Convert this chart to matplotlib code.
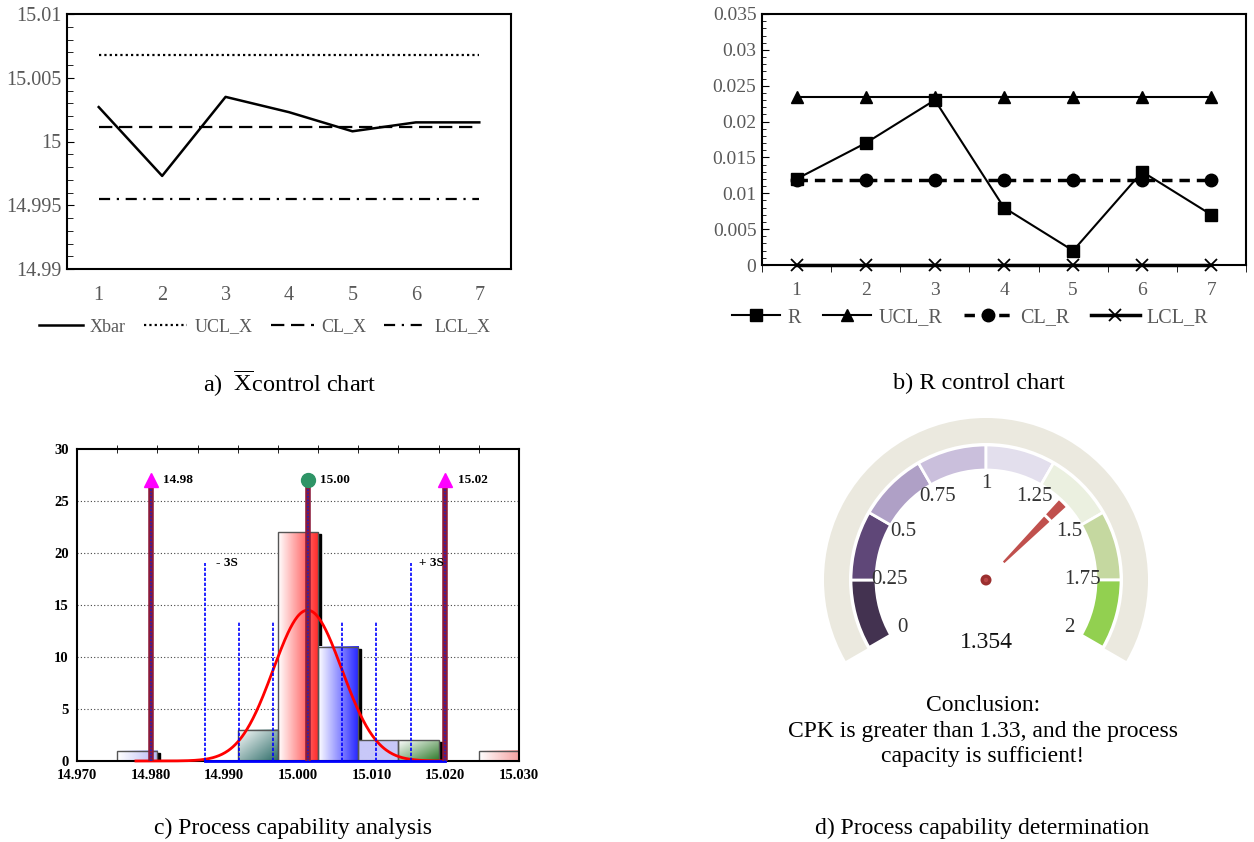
import numpy as np
import matplotlib
matplotlib.use("Agg")
import matplotlib.pyplot as plt
from matplotlib.patches import Wedge, Rectangle, Circle
from matplotlib.colors import to_rgb
from matplotlib.ticker import MultipleLocator

plt.rcParams["font.family"] = ["Liberation Serif", "DejaVu Serif"]
plt.rcParams["mathtext.fontset"] = "custom"
plt.rcParams["mathtext.rm"] = "Liberation Serif"
plt.rcParams["mathtext.it"] = "Liberation Serif:italic"

# a) Xbar control chart
samples = [1, 2, 3, 4, 5, 6, 7]
xbar = [15.0027, 14.9973, 15.0035, 15.0023, 15.0008, 15.0015, 15.0015]
ucl_x = 15.0068
cl_x = 15.0011
lcl_x = 14.9955
xbar_ticks = [14.99, 14.995, 15.0, 15.005, 15.01]
xbar_tick_labels = ["14.99", "14.995", "15", "15.005", "15.01"]

# b) R control chart
r_vals = [0.012, 0.017, 0.023, 0.008, 0.002, 0.013, 0.007]
ucl_r = 0.0234
cl_r = 0.0118
lcl_r = 0.0
r_ticks = [0, 0.005, 0.01, 0.015, 0.02, 0.025, 0.03, 0.035]
r_tick_labels = ["0", "0.005", "0.01", "0.015", "0.02", "0.025", "0.03", "0.035"]

# c) process capability histogram
hist_lo, hist_hi = 14.970, 15.030
hist_counts = [0, 1, 0, 0, 3, 22, 11, 2, 2, 0, 1]
hist_fills = [None, ("h", "#b8b8f4"), None, None, ("d", "#2a6a66"),
              ("h", "#ff2828"), ("h", "#2424ff"), ("s", "#c8c8f8"),
              ("d", "#2e7a2a"), None, ("h", "#f4a0a0")]
lsl, usl = 14.98, 15.02
mean_val = 15.0013
sigma_val = 0.00466
curve_peak = 14.5
hist_xticks = [14.970, 14.980, 14.990, 15.000, 15.010, 15.020, 15.030]

# d) gauge
gauge_ticks = [0, 0.25, 0.5, 0.75, 1, 1.25, 1.5, 1.75, 2]
gauge_colors = ["#433250", "#5f4778", "#afa0c6", "#cabfdc",
                "#e3dfed", "#ebf0e0", "#c5d8a0", "#92d050"]
cpk = 1.354

W, H = 1254, 842
fig = plt.figure(figsize=(W / 100, H / 100), dpi=100)


def fx(px):
    return px / W


def fy(py):
    return 1 - py / H


grey = "#595959"

# ---------------- a) Xbar chart ----------------
ax_a = fig.add_axes([fx(67), fy(269), fx(511 - 67), (269 - 14) / H])
n = len(samples)
ax_a.plot(samples, xbar, color="black", lw=1.8, label="Xbar")
ax_a.plot(samples, [ucl_x] * n, color="black", lw=1.6, ls=(0, (1, 1.4)), label="UCL_X")
ax_a.plot(samples, [cl_x] * n, color="black", lw=1.6, ls=(0, (6, 3)), label="CL_X")
ax_a.plot(samples, [lcl_x] * n, color="black", lw=1.6, ls=(0, (5, 3, 1, 3)), label="LCL_X")
ax_a.set_xlim(0.5, 7.5)
ax_a.set_ylim(14.99, 15.01)
ax_a.set_yticks(xbar_ticks)
ax_a.set_yticklabels(xbar_tick_labels)
ax_a.yaxis.set_minor_locator(MultipleLocator(0.001))
ax_a.set_xticks(samples)
ax_a.tick_params(axis="y", which="both", direction="in", colors="black",
                 labelcolor=grey, labelsize=14.5, pad=4)
ax_a.tick_params(axis="y", which="major", length=5)
ax_a.tick_params(axis="y", which="minor", length=4)
ax_a.tick_params(axis="x", length=0, labelcolor=grey, labelsize=14.5, pad=12)
for s in ax_a.spines.values():
    s.set_linewidth(1.5)
fig.legend(*ax_a.get_legend_handles_labels(), loc="center",
           bbox_to_anchor=(fx(265), fy(327)), ncol=4, frameon=False,
           fontsize=13, handlelength=2.4, handletextpad=0.4,
           columnspacing=1.0, labelcolor=grey)

# ---------------- b) R chart ----------------
ax_b = fig.add_axes([fx(762), fy(265), fx(1246 - 762), (265 - 14) / H])
ax_b.plot(samples, [ucl_r] * n, color="black", lw=1.5, marker="^", ms=8,
          label="UCL_R", clip_on=False, zorder=3)
ax_b.plot(samples, [cl_r] * n, color="black", lw=2.5, ls=(0, (3, 2)), marker="o",
          ms=9, label="CL_R", clip_on=False, zorder=3)
ax_b.plot(samples, [lcl_r] * n, color="black", lw=2.5, marker="x", ms=8, mew=1.3,
          label="LCL_R", clip_on=False, zorder=3)
ax_b.plot(samples, r_vals, color="black", lw=1.5, marker="s", ms=9,
          label="R", clip_on=False, zorder=4)
ax_b.set_xlim(0.5, 7.5)
ax_b.set_ylim(0, 0.035)
ax_b.set_yticks(r_ticks)
ax_b.set_yticklabels(r_tick_labels)
ax_b.yaxis.set_minor_locator(MultipleLocator(0.001))
ax_b.set_xticks(samples)
ax_b.set_xticks([i + 0.5 for i in range(8)], minor=True)
ax_b.tick_params(axis="y", which="both", direction="in", labelcolor=grey,
                 labelsize=14, pad=4)
ax_b.tick_params(axis="y", which="major", length=5)
ax_b.tick_params(axis="y", which="minor", length=3)
ax_b.tick_params(axis="x", which="major", length=0, labelcolor=grey,
                 labelsize=14, pad=12)
ax_b.tick_params(axis="x", which="minor", length=5, direction="out")
for s in ax_b.spines.values():
    s.set_linewidth(1.5)
hb, lb = ax_b.get_legend_handles_labels()
order = [3, 0, 1, 2]
fig.legend([hb[i] for i in order], [lb[i] for i in order], loc="center",
           bbox_to_anchor=(fx(970), fy(318)), ncol=4, frameon=False,
           fontsize=14.5, handlelength=2.4, handletextpad=0.35,
           columnspacing=1.1, labelcolor=grey)

# ---------------- c) histogram ----------------
ax_c = fig.add_axes([fx(77), fy(761), fx(519 - 77), (761 - 449) / H])
edges = np.linspace(hist_lo, hist_hi, len(hist_counts) + 1)
bw = edges[1] - edges[0]
ax_c.set_xlim(hist_lo, hist_hi)
ax_c.set_ylim(0, 30)
for yv in [5, 10, 15, 20, 25]:
    ax_c.axhline(yv, color="#444444", lw=0.8, ls=(0, (1, 2)), zorder=0)

dx_sh = 0.0004
dy_sh = 0.2
for i, c in enumerate(hist_counts):
    if c == 0:
        continue
    x0 = edges[i]
    ax_c.add_patch(Rectangle((x0 + dx_sh, 0), bw, c - dy_sh, color="black",
                             zorder=1.5))
for i, c in enumerate(hist_counts):
    if c == 0:
        continue
    x0 = edges[i]
    kind, col = hist_fills[i]
    rgb = np.array(to_rgb(col))
    white = np.array([1.0, 1.0, 1.0])
    if kind == "s":
        img = np.tile(rgb, (2, 2, 1))
    elif kind == "h":
        t = np.linspace(0, 1, 64)[None, :, None]
        img = (1 - t) * white + t * rgb
    else:
        tx, ty = np.meshgrid(np.linspace(0, 1, 64), np.linspace(0, 1, 64))
        t = ((tx + ty) / 2)[:, :, None]
        img = (1 - t) * white + t * rgb
    ax_c.imshow(img, extent=[x0, x0 + bw, 0, c], aspect="auto",
                interpolation="bilinear", zorder=2)
    ax_c.add_patch(Rectangle((x0, 0), bw, c, fill=False, ec="#555555",
                             lw=1.0, zorder=2.1))

# normal curve
xc = np.linspace(mean_val - 5 * sigma_val, usl, 400)
yc = curve_peak * np.exp(-0.5 * ((xc - mean_val) / sigma_val) ** 2)
ax_c.plot(xc, yc, color="red", lw=2, zorder=3, clip_on=False)

# sigma lines
for k in [-3, -2, -1, 1, 2, 3]:
    xv = mean_val + k * sigma_val
    top = 19 if abs(k) == 3 else 13.5
    ax_c.plot([xv, xv], [0, top], color="blue", lw=1.2, ls=(0, (2, 1)), zorder=3.5)
ax_c.plot([mean_val - 3 * sigma_val, usl], [0, 0],
          color="blue", lw=2, zorder=3.6, clip_on=False)
ax_c.text(mean_val - 3 * sigma_val + 0.0015, 19, "- 3S", fontsize=9.5,
          fontweight="bold", va="center", ha="left", zorder=5)
ax_c.text(mean_val + 3 * sigma_val + 0.0012, 19, "+ 3S", fontsize=9.5,
          fontweight="bold", va="center", ha="left", zorder=5)

# spec / center lines
for xv, mk, mc, lab in [(lsl, "^", "#ff00ff", f"{lsl:.2f}"),
                        (mean_val, "o", "#2e9466", f"{mean_val:.2f}"),
                        (usl, "^", "#ff00ff", f"{usl:.2f}")]:
    ax_c.plot([xv, xv], [0, 27], color="#8b1a3a", lw=4, zorder=4,
              solid_capstyle="butt")
    ax_c.plot([xv, xv], [0, 27], color="#2020c0", lw=1.2, ls=(0, (1, 1)), zorder=4.1)
    ax_c.plot([xv], [27], marker=mk, color=mc, ms=10, zorder=4.2, clip_on=False)
    ax_c.text(xv + 0.0017, 27, lab, fontsize=9.5, fontweight="bold",
              va="center", ha="left", zorder=5)

ax_c.set_xticks(hist_xticks)
ax_c.set_xticklabels([f"{v:.3f}" for v in hist_xticks], fontweight="bold")
ax_c.set_xticks(edges, minor=True)
ax_c.set_yticks([0, 5, 10, 15, 20, 25, 30])
ax_c.set_yticklabels(["0", "5", "10", "15", "20", "25", "30"], fontweight="bold")
ax_c.tick_params(axis="x", which="major", length=0, labelsize=10.5, pad=6)
ax_c.tick_params(axis="x", which="minor", top=True, bottom=False, length=6,
                 direction="inout")
ax_c.tick_params(axis="y", length=0, labelsize=10.5, pad=6)
for s in ax_c.spines.values():
    s.set_linewidth(1.5)

# ---------------- d) gauge ----------------
ax_d = fig.add_axes([fx(700), 0, fx(W - 700), 442 / H])
ax_d.set_xlim(700, W)
ax_d.set_ylim(0, 442)
ax_d.axis("off")
cx, cy = 986, H - 580
a_start, a_end = 210, -30
span = a_start - a_end
g_min, g_max = gauge_ticks[0], gauge_ticks[-1]


def ang(v):
    return a_start - (v - g_min) / (g_max - g_min) * span


ax_d.add_patch(Wedge((cx, cy), 162, a_end, a_start, width=25, fc="#ebe9df",
                     ec="none"))
for i, col in enumerate(gauge_colors):
    t1 = ang(gauge_ticks[i + 1])
    t0 = ang(gauge_ticks[i])
    ax_d.add_patch(Wedge((cx, cy), 135, t1, t0, width=25, fc=col, ec="white",
                         lw=2))
for v in gauge_ticks:
    a = np.radians(ang(v))
    lab = f"{v:g}"
    ax_d.text(cx + 96 * np.cos(a), cy + 96 * np.sin(a), lab, fontsize=15,
              color="#333333", ha="center", va="center")

na = ang(cpk)
ax_d.add_patch(Wedge((cx, cy), 86, na - 5, na, width=61, fc="#c0504d", ec="none"))
ax_d.add_patch(Wedge((cx, cy), 108, na - 5, na, width=19, fc="#c0504d", ec="none"))
ax_d.add_patch(Circle((cx, cy), 5.5, fc="#9b2f2f", ec="none"))
ax_d.add_patch(Circle((cx, cy), 2.2, fc="#b84545", ec="none"))
ax_d.text(cx, H - 643, f"{cpk:.3f}", fontsize=17, ha="center", va="center",
          color="#111111")

fig.text(fx(983), fy(731),
         "Conclusion:\nCPK is greater than 1.33, and the process\ncapacity is sufficient!",
         ha="center", va="center", fontsize=17, linespacing=1.3)

# captions
fig.text(fx(290), fy(383), r"a)  $\overline{\mathrm{X}}$control chart",
         ha="center", va="center", fontsize=17.5)
fig.text(fx(979), fy(383), "b) R control chart", ha="center", va="center",
         fontsize=17.5)
fig.text(fx(293), fy(828), "c) Process capability analysis", ha="center",
         va="center", fontsize=17)
fig.text(fx(982), fy(828), "d) Process capability determination", ha="center",
         va="center", fontsize=17)

fig.savefig("out.png", dpi=100)
